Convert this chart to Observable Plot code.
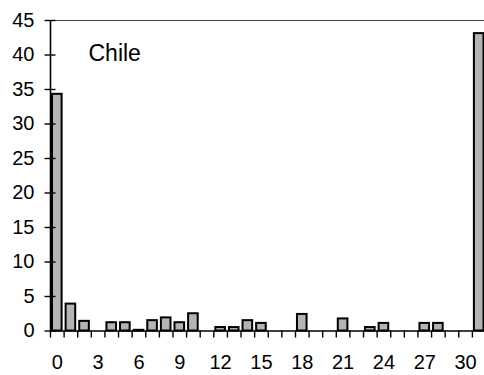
<!DOCTYPE html>
<html>
<head>
<meta charset="utf-8">
<script src="https://cdn.jsdelivr.net/npm/d3@7"></script>
<script src="https://cdn.jsdelivr.net/npm/@observablehq/plot@0.6"></script>
<style>
  html, body { margin: 0; padding: 0; background: #fff; }
  svg { display: block; }
</style>
</head>
<body>
<div id="chart"></div>
<script>
const categories = d3.range(0, 32);
const values = [34.3, 3.9, 1.4, 0, 1.2, 1.2, 0.1, 1.5, 1.9, 1.2, 2.5, 0, 0.5, 0.5, 1.5, 1.1,
                0, 0, 2.4, 0, 0, 1.75, 0, 0.5, 1.1, 0, 0, 1.1, 1.1, 0, 0, 43.1];
const yTicks = d3.range(0, 50, 5);
const xTickLabels = d3.range(0, 31, 3);
const title = "Chile";

const data = categories.map((c, i) => ({c, v: values[i]}));
const font = "'Liberation Sans', Arial, sans-serif";

const chart = Plot.plot({
  width: 484,
  height: 375,
  marginTop: 20,
  marginBottom: 44.5,
  marginLeft: 50,
  marginRight: 0,
  style: {fontFamily: font, background: "#fff", color: "#000"},
  x: {type: "linear", domain: [0, 32], range: [50, 485.5], axis: null},
  y: {domain: [0, 45], range: [330.5, 20], axis: null},
  marks: [
    Plot.ruleY([45], {x1: 0, x2: 32, stroke: "#444", strokeWidth: 1}),
    Plot.rectY(data, {x1: d => d.c, x2: d => d.c + 1, y: "v", insetLeft: 2, insetRight: 2,
      fill: "#b4b4b4", stroke: "#000", strokeWidth: 2}),
    Plot.ruleY([0], {x1: 0, x2: 32, stroke: "#000", strokeWidth: 1.6}),
    Plot.ruleX([0], {y1: 0, y2: 45, stroke: "#000", strokeWidth: 1.6}),
    Plot.axisX(d3.range(0, 33), {tickSize: 7, text: null, label: null, strokeWidth: 1.4}),
    Plot.axisX(xTickLabels.map(d => d + 0.5), {tickSize: 0, tickPadding: 24, label: null,
      tickFormat: d => d - 0.5, fontSize: 20, letterSpacing: 0.8}),
    Plot.axisY(yTicks, {tickSize: 11, dx: 5.5, text: null, label: null, strokeWidth: 1.4}),
    Plot.axisY(yTicks, {tickSize: 0, tickPadding: 16, label: null, fontSize: 20, letterSpacing: 0.6}),
    Plot.text([title], {frameAnchor: "top-left", dx: 38, dy: 33, lineAnchor: "middle",
      textAnchor: "start", fontSize: 23, letterSpacing: 0.5, fill: "#000"})
  ]
});
document.getElementById("chart").appendChild(chart);
</script>
</body>
</html>
